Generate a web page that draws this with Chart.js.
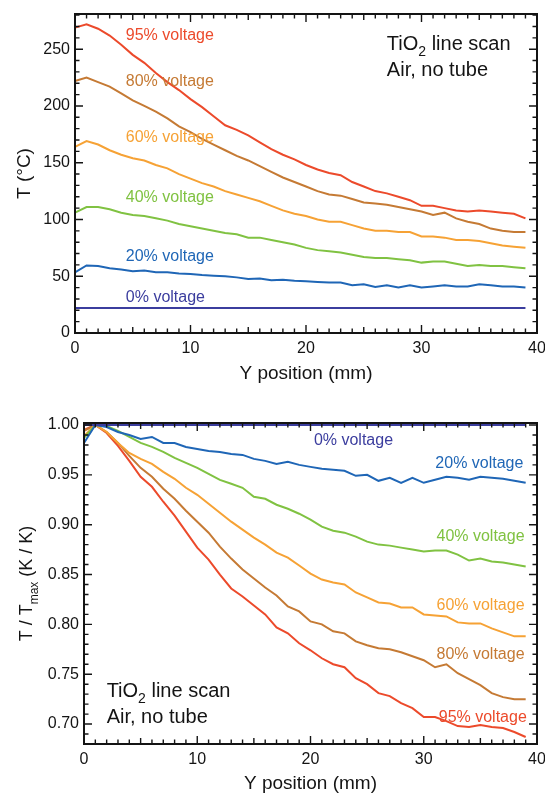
<!DOCTYPE html>
<html><head><meta charset="utf-8">
<script src="https://cdn.jsdelivr.net/npm/chart.js@4/dist/chart.umd.min.js"></script>
<style>
html,body{margin:0;padding:0;background:#fff;overflow:hidden;}
#top{position:absolute;left:0;top:0;width:545px;height:395px;}
#bot{position:absolute;left:0;top:395px;width:545px;height:400px;}
</style></head><body>
<div id="top"><canvas id="c1"></canvas></div>
<div id="bot"><canvas id="c2"></canvas></div>
<script>
// ---------- DATA ----------
const positionsMm = [0,1,2,3,4,5,6,7,8,9,10,11,12,13,14,15,16,17,18,19,20,21,22,23,24,25,26,27,28,29,30,31,32,33,34,35,36,37,38,39];
const xTickValues = [0,10,20,30,40];
const tempTickValues = [0,50,100,150,200,250];
const ratioTickValues = [0.70,0.75,0.80,0.85,0.90,0.95,1.00];
const seriesNames = ['0% voltage','20% voltage','40% voltage','60% voltage','80% voltage','95% voltage'];

// Top panel: temperature (°C)
const temp0 = [22,22,22,22,22,22,22,22,22,22,22,22,22,22,22,22,22,22,22,22,22,22,22,22,22,22,22,22,22,22,22,22,22,22,22,22,22,22,22,22];
const temp20 = [53.5,59.5,59,57,56,54.5,55,53.5,53.5,52.5,52,51,50.5,50,49,47.5,48,46.5,47,46,45.5,45,44.5,44.5,42,43,40.5,42,40,42,40,41,42,41,41,43,42,41,41,40];
const temp40 = [106,111,111,109,106,104,103,101,99,96,94,92,90,88,87,84,84,82,80,78,75,73,72,71,69,67,66,66,65,64,62,63,63,61,59,60,59,59,58,57];
const temp60 = [164,169,166,161,157,154,152,148,145,140,136,132,129,125,122,119,116,112,108,105,103,100,98,98,95,92,90,90,89,89,85,85,84,82,82,81,79,77,76,75];
const temp80 = [222,225,221,217,211,205,200,195,189,182,177,171,166,161,156,152,147,142,137,133,129,125,122,121,118,115,114,113,111,109,107,104,106,101,98,96,92,90,89,89];
const temp95 = [269,272,268,262,254,245,238,229,221,214,206,199,191,183,179,174,168,162,157,153,148,144,141,139,133,129,125,123,120,117,112,112,110,108,107,108,107,106,105,101];

// Bottom panel: T / Tmax (K / K)
const ratio0 = [1,1,1,1,1,1,1,1,1,1,1,1,1,1,1,1,1,1,1,1,1,1,1,1,1,1,1,1,1,1,1,1,1,1,1,1,1,1,1,1];
const ratio20 = [0.982,1.0,0.998,0.993,0.990,0.986,0.988,0.982,0.982,0.978,0.976,0.974,0.973,0.971,0.970,0.966,0.964,0.961,0.963,0.960,0.958,0.956,0.955,0.954,0.949,0.950,0.944,0.947,0.942,0.947,0.942,0.945,0.948,0.947,0.945,0.948,0.947,0.946,0.944,0.942];
const ratio40 = [0.987,1.0,0.999,0.994,0.988,0.982,0.978,0.973,0.967,0.962,0.957,0.951,0.945,0.941,0.937,0.928,0.926,0.920,0.916,0.911,0.905,0.898,0.894,0.892,0.888,0.883,0.880,0.879,0.877,0.875,0.873,0.874,0.874,0.870,0.864,0.866,0.863,0.862,0.860,0.858];
const ratio60 = [0.989,1.0,0.993,0.982,0.972,0.966,0.961,0.953,0.946,0.937,0.930,0.921,0.912,0.903,0.895,0.887,0.880,0.872,0.867,0.859,0.851,0.845,0.842,0.840,0.832,0.827,0.822,0.821,0.817,0.817,0.810,0.809,0.808,0.802,0.801,0.801,0.796,0.792,0.788,0.788];
const ratio80 = [0.994,1.0,0.993,0.982,0.969,0.957,0.948,0.936,0.926,0.914,0.903,0.892,0.878,0.866,0.855,0.846,0.837,0.829,0.818,0.813,0.803,0.800,0.793,0.791,0.783,0.779,0.776,0.775,0.772,0.768,0.764,0.757,0.760,0.751,0.745,0.739,0.731,0.727,0.725,0.725];
const ratio95 = [0.995,1.0,0.992,0.979,0.964,0.948,0.938,0.923,0.909,0.893,0.877,0.865,0.850,0.836,0.828,0.819,0.810,0.797,0.791,0.781,0.774,0.766,0.760,0.757,0.746,0.740,0.731,0.728,0.721,0.716,0.707,0.707,0.703,0.698,0.697,0.699,0.697,0.696,0.692,0.687];

// ---------- STYLE ----------
const seriesColors = ['#3b3d9e','#1f66b6','#80c242','#f6a235','#c57a34','#ec4a2b'];
const FONT = "'Liberation Sans', Arial, Helvetica, sans-serif";
const INK = '#141414';
Chart.defaults.font.family = FONT;

const toPts = arr => arr.map((v, i) => ({x: positionsMm[i], y: v}));
function makeDatasets(list) {
  return list.map((arr, i) => ({
    label: seriesNames[i], data: toPts(arr), borderColor: seriesColors[i],
    backgroundColor: seriesColors[i], borderWidth: 2, pointRadius: 0, tension: 0, fill: false, clip: false
  }));
}

// Frame + inward ticks on all four sides
const frameTicks = {
  id: 'frameTicks',
  afterDatasetsDraw(chart, args, o) {
    const {ctx, chartArea: a, scales: {x, y}} = chart;
    ctx.save();
    ctx.strokeStyle = INK;
    ctx.lineWidth = 1.4;
    const nx = Math.round((x.max - x.min) / o.xMinor);
    for (let k = 0; k <= nx; k++) {
      const v = x.min + k * o.xMinor;
      const r = v / o.xMajor, r2 = v / o.xMid;
      const len = Math.abs(r - Math.round(r)) < 1e-6 ? 8 : (Math.abs(r2 - Math.round(r2)) < 1e-6 ? 6 : 4.5);
      const px = x.getPixelForValue(v);
      ctx.beginPath();
      ctx.moveTo(px, a.bottom); ctx.lineTo(px, a.bottom - len);
      ctx.moveTo(px, a.top); ctx.lineTo(px, a.top + len);
      ctx.stroke();
    }
    const y0 = Math.ceil(y.min / o.yMinor - 1e-6);
    const y1 = Math.floor(y.max / o.yMinor + 1e-6);
    for (let k = y0; k <= y1; k++) {
      const v = k * o.yMinor;
      const r = v / o.yMajor;
      const len = Math.abs(r - Math.round(r)) < 1e-6 ? 8 : 4.5;
      const py = y.getPixelForValue(v);
      ctx.beginPath();
      ctx.moveTo(a.left, py); ctx.lineTo(a.left + len, py);
      ctx.moveTo(a.right, py); ctx.lineTo(a.right - len, py);
      ctx.stroke();
    }
    ctx.lineWidth = 2;
    ctx.strokeRect(a.left, a.top, a.right - a.left, a.bottom - a.top);
    ctx.restore();
  }
};

// draw rich text (segments with optional subscript)
function drawRich(ctx, segs, x, y, size, color, align) {
  ctx.save();
  ctx.fillStyle = color;
  ctx.textBaseline = 'alphabetic';
  const subSize = Math.round(size * 0.68);
  let total = 0;
  const widths = segs.map(s => { ctx.font = (s.sub ? subSize : size) + 'px ' + FONT; const w = ctx.measureText(s.t).width; total += w; return w; });
  let cx = align === 'right' ? x - total : (align === 'center' ? x - total / 2 : x);
  segs.forEach((s, i) => {
    ctx.font = (s.sub ? subSize : size) + 'px ' + FONT;
    ctx.textAlign = 'left';
    ctx.fillText(s.t, cx, s.sub ? y + size * 0.28 : y);
    cx += widths[i];
  });
  ctx.restore();
}

const textLabels = {
  id: 'textLabels',
  afterDraw(chart, args, o) {
    const {ctx, chartArea: a, scales: {x, y}} = chart;
    (o.items || []).forEach(it => {
      drawRich(ctx, it.segs, x.getPixelForValue(it.x), y.getPixelForValue(it.y), it.size, it.color, it.align);
    });
    if (o.yTitle) {
      ctx.save();
      ctx.translate(o.yTitle.px, (a.top + a.bottom) / 2);
      ctx.rotate(-Math.PI / 2);
      drawRich(ctx, o.yTitle.segs, 0, o.yTitle.size * 0.36, o.yTitle.size, INK, 'center');
      ctx.restore();
    }
  }
};

function baseOptions(cfg) {
  return {
    responsive: true, maintainAspectRatio: false, animation: false,
    layout: {padding: cfg.padding},
    plugins: {legend: {display: false}, tooltip: {enabled: false},
      frameTicks: cfg.ticks, textLabels: cfg.labels},
    scales: {
      x: {
        type: 'linear', min: 0, max: 40,
        afterBuildTicks: s => { s.ticks = xTickValues.map(v => ({value: v})); },
        afterFit: s => { s.height = cfg.xHeight; s.paddingRight = 8; s.paddingLeft = 0; },
        ticks: {font: {size: 16}, color: INK, padding: 6, maxRotation: 0, autoSkip: false},
        grid: {display: false, drawTicks: false}, border: {display: false},
        title: {display: true, text: 'Y position (mm)', font: {size: 19}, color: INK, padding: {top: 0, bottom: cfg.xTitlePad}}
      },
      y: {
        type: 'linear', min: cfg.yMin, max: cfg.yMax,
        afterBuildTicks: s => { s.ticks = cfg.yTicks.map(v => ({value: v})); },
        afterFit: s => { s.width = cfg.yWidth; s.paddingTop = 0; s.paddingBottom = 0; },
        ticks: {font: {size: 16}, color: INK, padding: 5, callback: cfg.yFmt},
        grid: {display: false, drawTicks: false}, border: {display: false},
        title: cfg.yTitle
      }
    }
  };
}

const lbl = (text, x, y, i, align) => ({segs: [{t: text}], x, y, size: 16, color: seriesColors[i], align});
const tioSegs = [{t: 'TiO'}, {t: '2', sub: true}, {t: ' line scan'}];
const airSegs = [{t: 'Air, no tube'}];

new Chart(document.getElementById('c1'), {
  type: 'line',
  data: {datasets: makeDatasets([temp0, temp20, temp40, temp60, temp80, temp95])},
  options: baseOptions({
    padding: {top: 14, right: 0, left: 0, bottom: 0},
    xHeight: 62, xTitlePad: 10, yWidth: 75, yMin: 0, yMax: 281,
    yTicks: tempTickValues, yFmt: v => String(v),
    yTitle: {display: true, text: 'T (°C)', font: {size: 19}, color: INK, padding: {top: 13, bottom: 0}},
    ticks: {xMinor: 1, xMid: 5, xMajor: 10, yMinor: 10, yMajor: 50},
    labels: {items: [
      lbl('95% voltage', 4.4, 258, 5, 'left'),
      lbl('80% voltage', 4.4, 218, 4, 'left'),
      lbl('60% voltage', 4.4, 168, 3, 'left'),
      lbl('40% voltage', 4.4, 115, 2, 'left'),
      lbl('20% voltage', 4.4, 63, 1, 'left'),
      lbl('0% voltage', 4.4, 27.5, 0, 'left'),
      {segs: tioSegs, x: 27.0, y: 249, size: 20, color: INK, align: 'left'},
      {segs: airSegs, x: 27.0, y: 226, size: 20, color: INK, align: 'left'}
    ]}
  }),
  plugins: [frameTicks, textLabels]
});

new Chart(document.getElementById('c2'), {
  type: 'line',
  data: {datasets: makeDatasets([ratio0, ratio20, ratio40, ratio60, ratio80, ratio95])},
  options: baseOptions({
    padding: {top: 28, right: 0, left: 0, bottom: 0},
    xHeight: 51, xTitlePad: 0, yWidth: 84, yMin: 0.68, yMax: 1.002,
    yTicks: ratioTickValues, yFmt: v => Number(v).toFixed(2),
    yTitle: {display: false},
    ticks: {xMinor: 1, xMid: 5, xMajor: 10, yMinor: 0.01, yMajor: 0.05},
    labels: {
      yTitle: {px: 26, size: 18, segs: [{t: 'T / T'}, {t: 'max', sub: true}, {t: ' (K / K)'}]},
      items: [
        lbl('0% voltage', 20.3, 0.980, 0, 'left'),
        lbl('20% voltage', 38.8, 0.957, 1, 'right'),
        lbl('40% voltage', 38.9, 0.884, 2, 'right'),
        lbl('60% voltage', 38.9, 0.814, 3, 'right'),
        lbl('80% voltage', 38.9, 0.765, 4, 'right'),
        lbl('95% voltage', 39.1, 0.702, 5, 'right'),
        {segs: tioSegs, x: 2.0, y: 0.727, size: 20, color: INK, align: 'left'},
        {segs: airSegs, x: 2.0, y: 0.701, size: 20, color: INK, align: 'left'}
      ]}
  }),
  plugins: [frameTicks, textLabels]
});
</script>
</body></html>
